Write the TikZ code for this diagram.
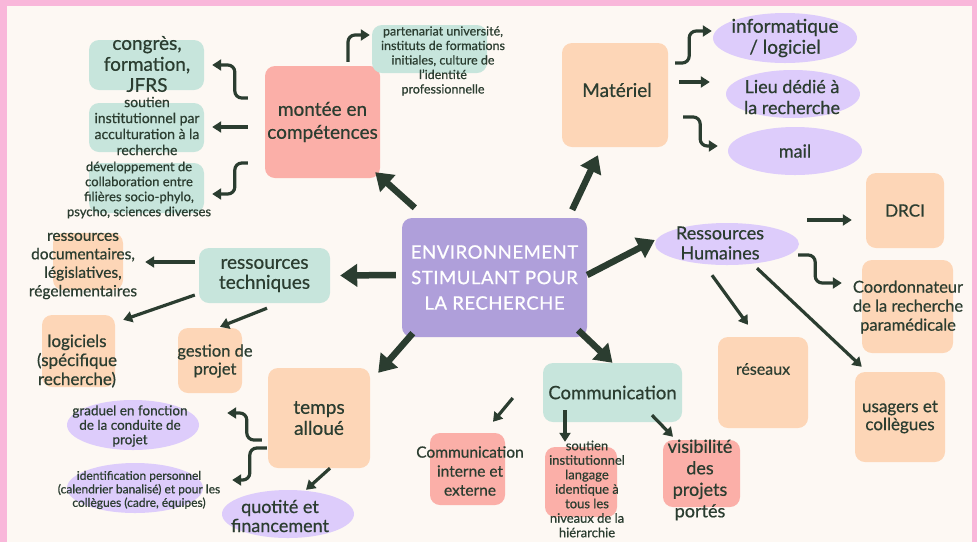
\documentclass[tikz,border=0pt]{standalone}
\usepackage{fontspec}
\setmainfont{Lato}[FakeBold=0.6]
\newfontfamily\capsfont[LetterSpace=3,FakeBold=0.8]{Lato}
\usetikzlibrary{arrows.meta,shapes.geometric}
\definecolor{cream}{HTML}{FDF8F3}
\definecolor{pinkb}{HTML}{F9B7DA}
\definecolor{purple}{HTML}{AF9FDA}
\definecolor{salmon}{HTML}{FBAFA8}
\definecolor{peach}{HTML}{FDD6B7}
\definecolor{green}{HTML}{C7E5DC}
\definecolor{lav}{HTML}{DDCCFB}
\definecolor{ink}{HTML}{2B3D30}
\begin{document}
\begin{tikzpicture}[x=1pt, y=-1pt,
  box/.style={fill=#1, rounded corners=10pt, inner sep=0pt},
  oval/.style={fill=lav, ellipse, inner sep=0pt},
  sz/.style 2 args={minimum width=#1pt, minimum height=#2pt},
  txt/.style={text=ink, align=center, inner sep=0pt},
  fs/.style 2 args={font=\fontsize{#1}{#2}\selectfont},
  big/.style={ink, line width=6.5pt, -{Triangle[length=17pt,width=22pt]}},
  arr/.style={ink, line width=3.2pt, rounded corners=7pt, -{Triangle[length=9pt,width=11pt]}}]
\useasboundingbox (0,0) rectangle (977,542);
\fill[pinkb] (0,0) rectangle (977,542);
\fill[cream] (7,6) rectangle (972,542);

\node[box=purple, sz={185}{119}, text=white, align=center, font=\capsfont\fontsize{18.5}{25.5}\selectfont] (env) at (494.5,277.5) {ENVIRONNEMENT\\STIMULANT POUR\\LA RECHERCHE};

\node[box=salmon, sz={115}{112}, txt, fs={19}{23}] (mont) at (322.5,122) {montée en\\compétences};
\node[box=green, sz={115}{50}] (cong) at (146.5,65) {};
\node[txt, fs={19}{21}] (cong-t) at (147,64) {congrès,\\formation,\\JFRS};
\node[box=green, sz={115}{49}] (sout) at (146.5,127.5) {};
\node[txt, fs={14}{16}] (sout-t) at (147,126) {soutien\\institutionnel par\\acculturation à la\\recherche};
\node[box=green, sz={115}{50}] (dev) at (146.5,188) {};
\node[txt, fs={13}{15}] (dev-t) at (139,190) {développement de\\collaboration entre\\filières socio-phylo,\\psycho, sciences diverses};
\node[box=green, sz={115}{48}] (part) at (429.5,49) {};
\node[txt, fs={12.5}{14.5}] (part-t) at (443,61) {partenariat université,\\instituts de formations\\initiales, culture de\\l'identité\\professionnelle};

\node[box=peach, sz={106}{104}] (mat) at (615,95) {};
\node[txt, fs={19}{22}] (mat-t) at (617,90) {Matériel};
\node[oval, sz={144}{50}] (info) at (785,38) {};
\node[txt, fs={19}{21}] (info-t) at (785,38) {informatique\\/ logiciel};
\node[oval, sz={134}{48}] (lieu) at (793,94) {};
\node[txt, fs={18}{21}] (lieu-t) at (792,97) {Lieu dédié à\\la recherche};
\node[oval, sz={134}{48}, txt, fs={18}{21}] (mail) at (795,151) {mail};

\node[box=green, sz={131}{55}, txt, fs={19}{20}] (tech) at (264.5,275.5) {ressources\\techniques};
\node[box=peach, sz={70}{57}] (doc) at (88,261.5) {};
\node[txt, fs={15.5}{18.5}] (doc-t) at (83,266) {ressources\\documentaires,\\législatives,\\régelementaires};
\node[box=peach, sz={73}{72}] (logi) at (78.5,351) {};
\node[txt, fs={17}{19}] (logi-t) at (77,361) {logiciels\\(spécifique\\recherche)};
\node[box=peach, sz={64}{65}] (gest) at (210,360.5) {};
\node[txt, fs={16.5}{18}] (gest-t) at (215,361) {gestion de\\projet};

\node[box=peach, sz={102}{100}, txt, fs={19}{21}] (temps) at (319,418) {temps\\alloué};
\node[oval, sz={132}{50}] (grad) at (133,425) {};
\node[txt, fs={13.5}{14.5}] (grad-t) at (130,426) {graduel en fonction\\de la conduite de\\projet};
\node[oval, sz={136}{50}] (ident) at (135,488) {};
\node[txt, fs={12}{13.5}] (ident-t) at (139,490) {identification personnel\\(calendrier banalisé) et pour les\\collègues (cadre, équipes)};
\node[oval, sz={132}{48}] (quot) at (288,514) {};
\node[txt, fs={18}{19}] (quot-t) at (280,516) {quotité et\\financement};

\node[box=green, sz={139}{59}, txt, fs={18.5}{20}] (comm) at (612.5,392.5) {Communication};
\node[box=salmon, sz={75}{72}] (cint) at (467.5,469) {};
\node[txt, fs={15.5}{19}] (cint-t) at (470,471) {Communication\\interne et\\externe};
\node[box=salmon, sz={72}{70}] (sout2) at (581,482) {};
\node[txt, fs={13}{14.5}] (sout2-t) at (587,489) {soutien\\institutionnel\\langage\\identique à\\tous les\\niveaux de la\\hiérarchie};
\node[box=salmon, sz={77}{67}] (visi) at (701.5,473.5) {};
\node[txt, fs={18}{21.5}] (visi-t) at (700,480) {visibilité\\des\\projets\\portés};

\node[oval, sz={144}{42}] (rh) at (727,244) {};
\node[txt, fs={18}{20}] (rh-t) at (720,243) {Ressources\\Humaines};
\node[box=peach, sz={78}{75}, txt, fs={17}{20}] (drci) at (905,210.5) {DRCI};
\node[box=peach, sz={91}{93}] (coord) at (907.5,306.5) {};
\node[txt, fs={16.5}{19}] (coord-t) at (908,307) {Coordonnateur\\de la recherche\\paramédicale};
\node[box=peach, sz={90}{91}] (res) at (763,382.5) {};
\node[txt, fs={16}{18}] (res-t) at (763,369) {réseaux};
\node[box=peach, sz={90}{90}, txt, fs={17}{18}] (usag) at (900,417) {usagers et\\collègues};

\draw[big] ([shift={(13,-10)}]env.north west) -- ([shift={(-5,-6)}]mont.south east);
\draw[big] ([shift={(-15,-8)}]env.north east) -- ([shift={(-17,8)}]mat.south);
\draw[big] ([shift={(-6,-2.5)}]env.west) -- ([shift={(10,0)}]tech.east);
\draw[big] ([shift={(11,-4)}]env.south west) -- ([shift={(8,5)}]temps.north east);
\draw[big] ([shift={(-9,-7)}]env.south east) -- (comm.north);
\draw[big] ([shift={(0,-2.5)}]env.east) -- ([shift={(0,-4)}]rh.west);

\draw[arr] ([shift={(-17,-24)}]mont.west) -- ++(-13,0) |- ([shift={(8,0)}]cong.east);
\draw[arr] ([shift={(-17,5)}]mont.west) -- ([shift={(8,-0.5)}]sout.east);
\draw[arr] ([shift={(-17,41)}]mont.west) -- ++(-13,0) |- ([shift={(8,6)}]dev.east);
\draw[arr] ([shift={(25.5,-4)}]mont.north) |- ([shift={(-2,-14)}]part.west);

\draw[arr] ([shift={(7,-32)}]mat.east) -- ++(14,0) |- ([shift={(-1,-7)}]info.west);
\draw[arr] ([shift={(11,-13)}]mat.east) -- ([shift={(-16,-12)}]lieu.west);
\draw[arr] ([shift={(15,22)}]mat.east) -- ++(17,0) |- ([shift={(-10,-5)}]mail.west);

\draw[arr] ([shift={(-4,-13.5)}]tech.west) -- ([shift={(22,0.5)}]doc.east);
\draw[arr] ([shift={(-4,19.5)}]tech.west) -- ([shift={(8,5)}]logi.north east);
\draw[arr] ([shift={(2.5,5)}]tech.south) -- ([shift={(10,-1)}]gest.north);

\draw[arr] ([shift={(-6,22)}]temps.west) -- ++(-15,0) |- ([shift={(28,-12)}]grad.east);
\draw[arr] ([shift={(-1,30)}]temps.west) -- ++(-17,0) |- ([shift={(29,-8)}]ident.east);
\draw[arr] ([shift={(11,0)}]temps.south) -- ([shift={(18,0)}]quot.north);

\draw[arr] ([shift={(-30,5.5)}]comm.west) -- ([shift={(25.5,-11)}]cint.north);
\draw[arr] ([shift={(-47.5,-12)}]comm.south) -- ([shift={(-16,-5)}]sout2.north);
\draw[arr] ([shift={(39.5,-7)}]comm.south) -- ([shift={(-28.5,-3)}]visi.north);

\draw[arr] ([shift={(8,-24)}]rh.east) -- ([shift={(-14,9.5)}]drci.west);
\draw[arr] ([shift={(-1,11)}]rh.east) -- ++(17,0) |- ([shift={(-20,-23.5)}]coord.west);
\draw[arr] ([shift={(-15,10)}]rh.south) -- ([shift={(-15,-12)}]res.north);
\draw[arr] ([shift={(30,3)}]rh.south) -- ([shift={(7,-5)}]usag.north west);
\end{tikzpicture}
\end{document}
